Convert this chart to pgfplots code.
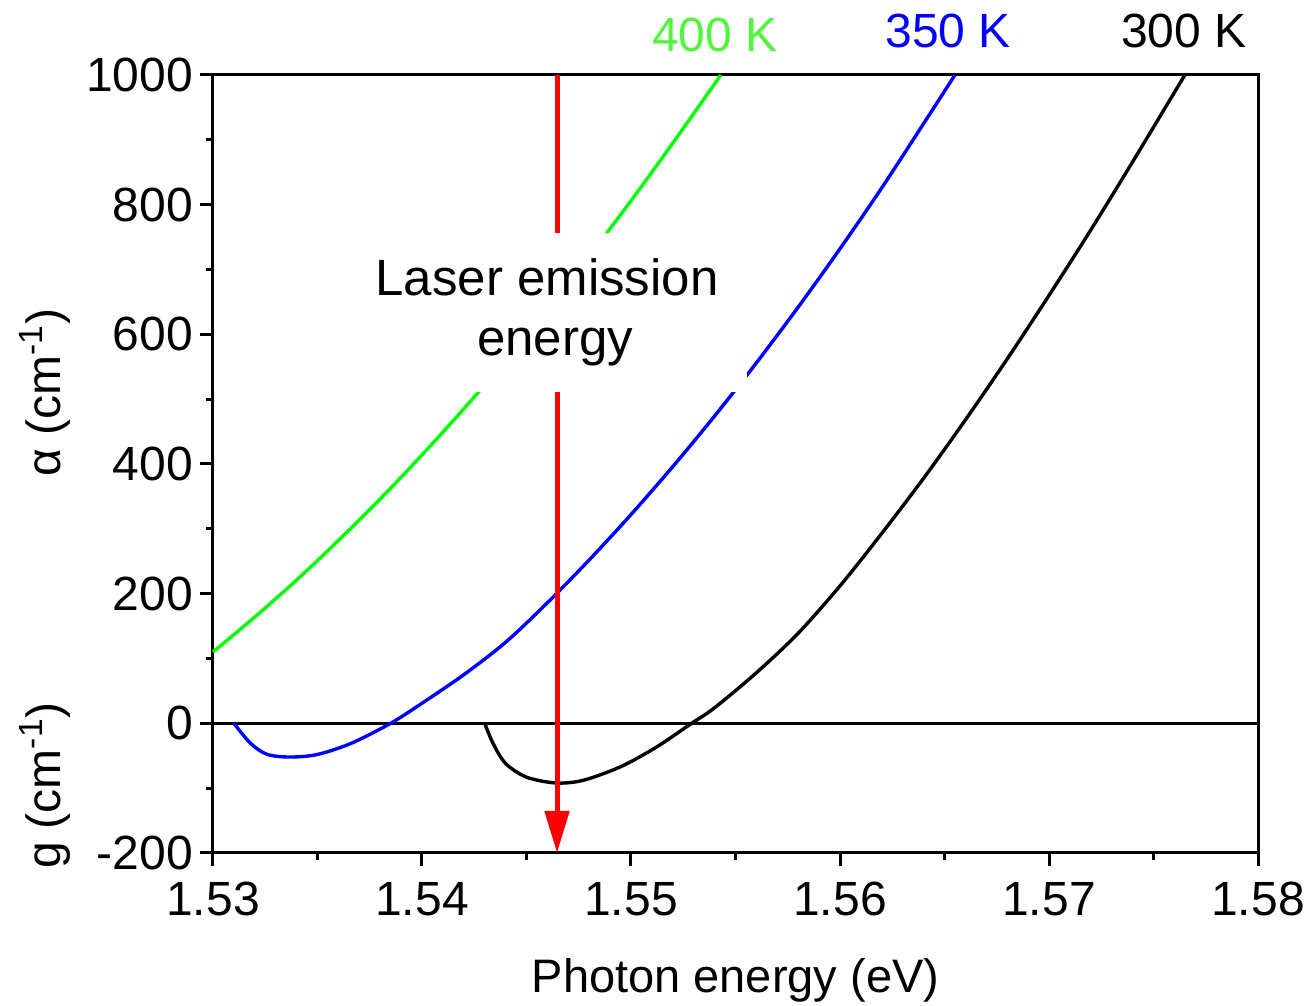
\documentclass[border=0pt]{standalone}
\usepackage{pgfplots}
\pgfplotsset{compat=1.18}
\usepackage{fontspec}
\setmainfont{Liberation Sans}
\usetikzlibrary{arrows.meta}
\definecolor{mygreen}{RGB}{0,255,0}
\definecolor{mygreentext}{RGB}{80,245,60}
\definecolor{myblue}{RGB}{0,0,255}
\definecolor{myred}{RGB}{255,0,0}
\newcommand{\bigf}{\fontsize{24}{30}\selectfont}
\newcommand{\labf}{\fontsize{23.5}{30}\selectfont}
\newcommand{\laserf}{\fontsize{25.5}{30}\selectfont}
\begin{document}
\begin{tikzpicture}
\begin{axis}[
  scale only axis, width=522.5pt, height=389pt,
  xmin=1.53, xmax=1.58, ymin=-200, ymax=1000,
  clip=false,
  axis line style={line width=1.5pt},
  every tick/.style={black, line width=1.5pt},
  tick align=outside, xtick pos=bottom, ytick pos=left,
  major tick length=6.5pt, minor tick length=3.5pt,
  xtick={1.53,1.54,1.55,1.56,1.57,1.58},
  xticklabels={1.53,1.54,1.55,1.56,1.57,1.58},
  ytick={-200,0,200,400,600,800,1000},
  yticklabels={-200,0,200,400,600,800,1000},
  minor x tick num=1, minor y tick num=1,
  tick label style={font=\bigf},
  xticklabel style={yshift=-4.5pt},
  xlabel={Photon energy (eV)},
  xlabel style={font=\labf, yshift=-14.5pt},
]
% zero line
\addplot[black, line width=1.5pt] coordinates {(1.53,0) (1.58,0)};
% 400 K
\addplot[mygreen, line width=1.7pt, smooth] coordinates {
(1.5300,110) (1.5320,164) (1.5340,221) (1.5360,282) (1.5380,346) (1.5400,414)
(1.5420,485) (1.5440,560) (1.5460,639) (1.5480,721) (1.5500,806) (1.5520,895)
(1.5543,1000)};
% 350 K
\addplot[myblue, line width=1.7pt, smooth] coordinates {
(1.5310,0) (1.5318,-31) (1.5326,-48) (1.5337,-52) (1.5350,-48) (1.5366,-31)
(1.5385,0) (1.5400,31) (1.5420,75) (1.5440,125) (1.5460,186) (1.5480,252)
(1.5500,322) (1.5520,396) (1.5540,474) (1.5560,556) (1.5580,642) (1.5600,732)
(1.5620,826) (1.5640,925) (1.5655,1000)};
% 300 K
\addplot[black, line width=1.7pt, smooth] coordinates {
(1.5430,0) (1.5434,-31) (1.5440,-62) (1.5450,-83) (1.5464,-92) (1.5477,-88)
(1.5495,-67) (1.5512,-37) (1.5529,0) (1.5540,24) (1.5560,78) (1.5580,139)
(1.5600,212) (1.5620,293) (1.5640,378) (1.5660,468) (1.5680,562) (1.5700,660)
(1.5720,761) (1.5740,866) (1.5765,1000)};
% arrow
\addplot[myred, line width=2.5pt, -{Triangle[width=12pt,length=21pt]}] coordinates {(1.54646,1000) (1.54646,-200)};
% text box
\node[fill=white, align=center, font=\laserf, inner xsep=14.5pt, inner ysep=13pt] at (axis cs:1.54598,634) {Laser emission\\\hspace*{8pt}energy};
% temperature labels
\node[font=\bigf, text=mygreentext] at (axis cs:1.55402,1062) {400 K};
\node[font=\bigf, text=myblue] at (axis cs:1.56517,1068) {350 K};
\node[font=\bigf, text=black] at (axis cs:1.57646,1068) {300 K};
% y labels
\node[font=\bigf, rotate=90] at (axis cs:1.52196,510) {α (cm\textsuperscript{-1})};
\node[font=\bigf, rotate=90] at (axis cs:1.52196,-96) {g (cm\textsuperscript{-1})};
\end{axis}
\pgfresetboundingbox
\path (current axis.south west) ++(-106.5pt,-76.5pt) rectangle ++(654pt,503pt);
\end{tikzpicture}
\end{document}
